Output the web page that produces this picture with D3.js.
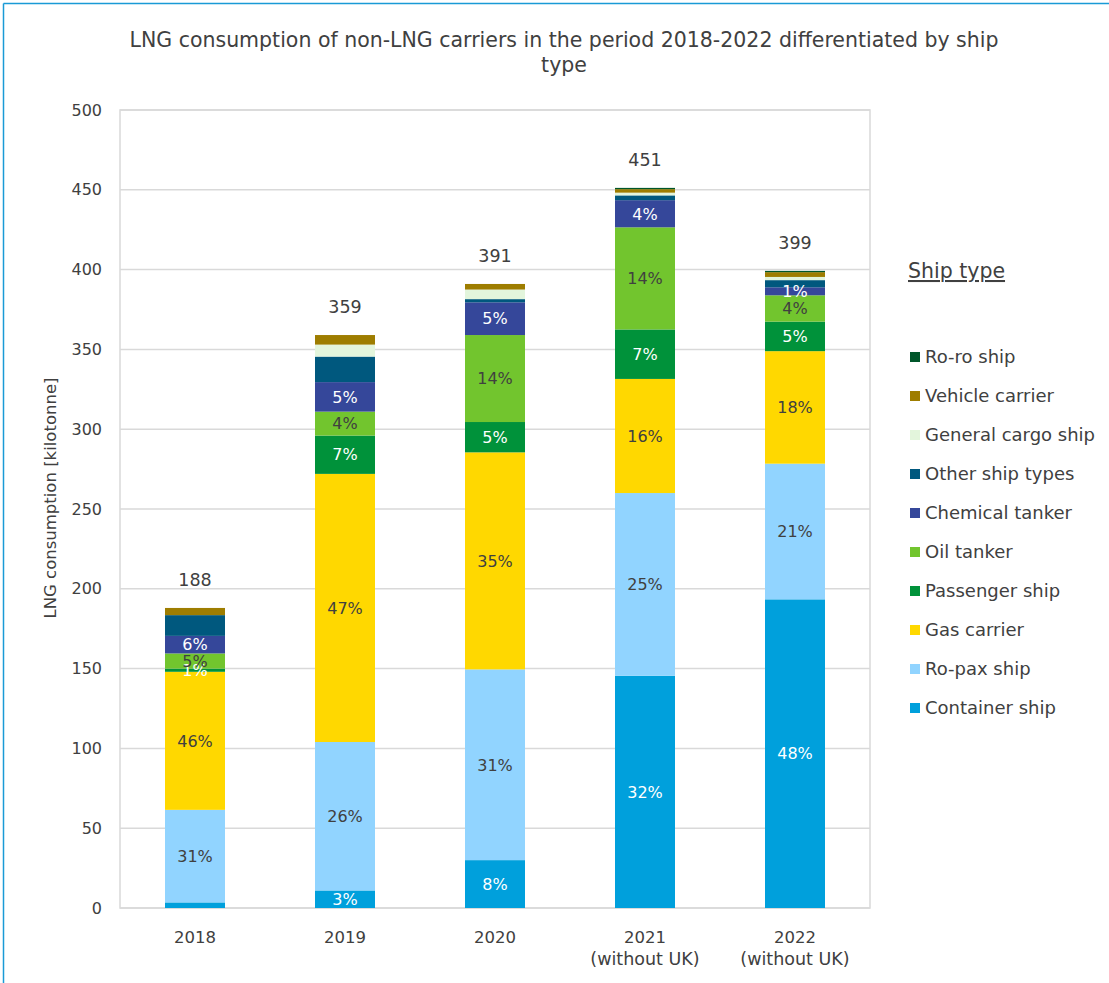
<!DOCTYPE html>
<html>
<head>
<meta charset="utf-8">
<script src="https://cdn.jsdelivr.net/npm/d3@7"></script>
<style>
  html, body { margin: 0; padding: 0; background: #fff; }
  svg text { font-family: "DejaVu Sans", "Open Sans", sans-serif; fill: #404040; }
</style>
</head>
<body>
<svg id="chart" width="1109" height="983"></svg>
<script>
// ---- data ----
const years = ["2018", "2019", "2020", "2021", "2022"];
const yearSub = ["", "", "", "(without UK)", "(without UK)"];
const seriesNames = ["Container ship", "Ro-pax ship", "Gas carrier", "Passenger ship", "Oil tanker",
  "Chemical tanker", "Other ship types", "General cargo ship", "Vehicle carrier", "Ro-ro ship"];
const containerShip   = [3.5, 11, 30, 145.5, 193.4];
const roPaxShip       = [58, 93, 119.5, 114.5, 85];
const gasCarrier      = [86.5, 168, 136, 71.5, 70.5];
const passengerShip   = [2, 24, 19, 31, 18.5];
const oilTanker       = [9.5, 15, 54.5, 64, 16.5];
const chemicalTanker  = [11, 18.5, 20.5, 17, 5];
const otherShipTypes  = [13, 16, 2, 3, 4.5];
const generalCargo    = [0, 7.5, 6, 1.7, 2];
const vehicleCarrier  = [4.5, 6, 3.5, 2.2, 3];
const roRoShip        = [0, 0, 0, 0.8, 0.8];
const yTicks = [0, 50, 100, 150, 200, 250, 300, 350, 400, 450, 500];
const labelledSeries = ["Container ship", "Ro-pax ship", "Gas carrier", "Passenger ship", "Oil tanker", "Chemical tanker"];
const hiddenLabels = [["Container ship", "2018"]];
const colors = ["#00a0dc", "#91d4ff", "#ffd800", "#00923a", "#72c52e", "#35479a", "#00587e", "#e3f5dc", "#9e7d00", "#00562a"];
const whiteLabelSeries = ["Container ship", "Passenger ship", "Chemical tanker"];

const seriesValues = [containerShip, roPaxShip, gasCarrier, passengerShip, oilTanker,
  chemicalTanker, otherShipTypes, generalCargo, vehicleCarrier, roRoShip];

const table = years.map((y, i) => {
  const row = { year: y };
  seriesNames.forEach((s, k) => row[s] = seriesValues[k][i]);
  return row;
});
const totals = years.map((y, i) => d3.sum(seriesValues, v => v[i]));

// ---- layout ----
const svg = d3.select("#chart");
const W = 1109, H = 983;
const plot = { left: 120, right: 870, top: 110, bottom: 908 };

// outer frame
svg.append("line").attr("x1", 3.5).attr("x2", W).attr("y1", 3.5).attr("y2", 3.5)
  .attr("stroke", "#1a9ad6").attr("stroke-width", 1.5);
svg.append("line").attr("x1", 3.5).attr("x2", 3.5).attr("y1", 3.5).attr("y2", H)
  .attr("stroke", "#1a9ad6").attr("stroke-width", 1.5);

// title
const title = svg.append("text").attr("text-anchor", "middle").attr("font-size", 20.5);
title.append("tspan").attr("x", 564).attr("y", 47)
  .text("LNG consumption of non-LNG carriers in the period 2018-2022 differentiated by ship");
title.append("tspan").attr("x", 564).attr("y", 72).text("type");

const x = d3.scaleBand().domain(years).range([plot.left, plot.right]).paddingInner(0.6).paddingOuter(0.3);
const y = d3.scaleLinear().domain([0, 500]).range([plot.bottom, plot.top]);

// gridlines
svg.append("g").selectAll("line").data(yTicks).join("line")
  .attr("x1", plot.left).attr("x2", plot.right)
  .attr("y1", d => y(d)).attr("y2", d => y(d))
  .attr("stroke", "#d9d9d9").attr("stroke-width", 1.5);
svg.append("rect").attr("x", plot.left).attr("y", plot.top)
  .attr("width", plot.right - plot.left).attr("height", plot.bottom - plot.top)
  .attr("fill", "none").attr("stroke", "#d9d9d9").attr("stroke-width", 1.5);

// y axis
const yAxis = svg.append("g").attr("transform", `translate(${plot.left},0)`)
  .call(d3.axisLeft(y).tickValues(yTicks).tickSize(0).tickPadding(18));
yAxis.select(".domain").remove();
yAxis.selectAll("text").attr("font-size", 16).attr("fill", "#404040")
  .style("font-family", "'DejaVu Sans', sans-serif");

svg.append("text").attr("transform", `translate(56,498) rotate(-90)`)
  .attr("text-anchor", "middle").attr("font-size", 16.5).text("LNG consumption [kilotonne]");

// x axis
const xAxis = svg.append("g").attr("transform", `translate(0,${plot.bottom})`)
  .call(d3.axisBottom(x).tickSize(0).tickPadding(0).tickFormat(() => ""));
xAxis.select(".domain").remove();
years.forEach((yr, i) => {
  const t = svg.append("text").attr("text-anchor", "middle").attr("font-size", 16.5);
  t.append("tspan").attr("x", x(yr) + x.bandwidth() / 2).attr("y", 943).text(yr);
  if (yearSub[i]) t.append("tspan").attr("x", x(yr) + x.bandwidth() / 2).attr("y", 965)
    .attr("font-size", 17.5).text(yearSub[i]);
});

// stacked bars
const stack = d3.stack().keys(seriesNames)(table);
const color = d3.scaleOrdinal().domain(seriesNames).range(colors);

const layers = svg.append("g").selectAll("g").data(stack).join("g")
  .attr("fill", d => color(d.key));
layers.selectAll("rect").data(d => d).join("rect")
  .attr("x", d => x(d.data.year))
  .attr("width", x.bandwidth())
  .attr("y", d => y(d[1]))
  .attr("height", d => Math.max(0, y(d[0]) - y(d[1])));

// percentage labels
const labels = svg.append("g");
stack.forEach(layer => {
  if (!labelledSeries.includes(layer.key)) return;
  layer.forEach((d, i) => {
    if (hiddenLabels.some(h => h[0] === layer.key && h[1] === d.data.year)) return;
    const v = d[1] - d[0];
    if (v <= 0) return;
    const pct = Math.round(v / totals[i] * 100);
    labels.append("text")
      .attr("x", x(d.data.year) + x.bandwidth() / 2)
      .attr("y", y((d[0] + d[1]) / 2))
      .attr("dy", "0.36em")
      .attr("text-anchor", "middle")
      .attr("font-size", 16)
      .style("fill", whiteLabelSeries.includes(layer.key) ? "#ffffff" : "#404040")
      .text(pct + "%");
  });
});

// totals
svg.append("g").selectAll("text").data(years).join("text")
  .attr("x", d => x(d) + x.bandwidth() / 2)
  .attr("y", (d, i) => y(totals[i]) - 22)
  .attr("text-anchor", "middle").attr("font-size", 17.5)
  .text((d, i) => Math.round(totals[i]));

// legend
svg.append("text").attr("x", 908).attr("y", 278).attr("font-size", 20.5)
  .attr("text-decoration", "underline").text("Ship type");
const legendOrder = seriesNames.slice().reverse();
const lg = svg.append("g").selectAll("g").data(legendOrder).join("g")
  .attr("transform", (d, i) => `translate(910,${357 + i * 39})`);
lg.append("rect").attr("x", 0).attr("y", -5).attr("width", 10).attr("height", 10)
  .attr("fill", d => color(d));
lg.append("text").attr("x", 15).attr("y", 0).attr("dy", "0.36em").attr("font-size", 18).text(d => d);
</script>
</body>
</html>
